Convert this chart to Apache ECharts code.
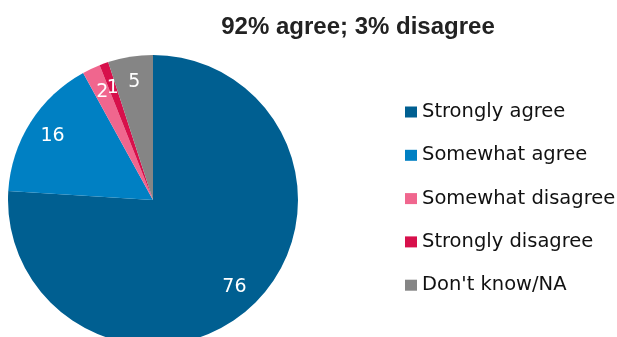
<!DOCTYPE html>
<html>
<head>
<meta charset="utf-8">
<script src="https://cdn.jsdelivr.net/npm/echarts@6/dist/echarts.min.js"></script>
<style>
  html, body { margin: 0; padding: 0; background: #fff; }
  #chart { width: 617px; height: 337px; }
</style>
</head>
<body>
<div id="chart"></div>
<script>
const categories = ['Strongly agree', 'Somewhat agree', 'Somewhat disagree', 'Strongly disagree', "Don't know/NA"];
const values = [76, 16, 2, 1, 5];
const colors = ['#005f91', '#0080c3', '#f0668e', '#d7104b', '#858585'];

const pieData = categories.map((name, i) => ({
  name,
  value: values[i],
  itemStyle: { color: colors[i] },
}));

const chart = echarts.init(document.getElementById('chart'));

const option = {
  animation: false,
  title: {
    text: '92% agree; 3% disagree',
    left: 353,
    textAlign: 'center',
    top: 10,
    textStyle: {
      fontFamily: 'Liberation Sans',
      fontWeight: 'bold',
      fontSize: 24,
      color: '#222',
    },
  },
  legend: {
    orient: 'vertical',
    left: 400,
    top: 97,
    itemWidth: 12,
    itemHeight: 11,
    itemGap: 23.3,
    icon: 'rect',
    data: categories,
    textStyle: {
      fontFamily: 'DejaVu Sans',
      fontSize: 19.5,
      lineHeight: 20,
      color: '#111',
    },
  },
  series: [
    {
      type: 'pie',
      center: [153, 200],
      radius: [0, 145],
      startAngle: 90,
      clockwise: true,
      data: pieData,
      label: { show: false },
      labelLine: { show: false },
      silent: true,
    },
    // transparent ring only to place the value labels at ~0.8r
    {
      type: 'pie',
      center: [153, 200],
      radius: [87, 145],
      startAngle: 90,
      clockwise: true,
      avoidLabelOverlap: false,
      labelLayout: { hideOverlap: false },
      data: pieData.map((d) => ({ ...d, itemStyle: { color: 'rgba(0,0,0,0)' } })),
      label: {
        show: true,
        position: 'inside',
        formatter: '{c}',
        color: '#fff',
        fontFamily: 'DejaVu Sans',
        fontSize: 19,
      },
      labelLine: { show: false },
      silent: true,
    },
  ],
};

chart.setOption(option);
</script>
</body>
</html>
